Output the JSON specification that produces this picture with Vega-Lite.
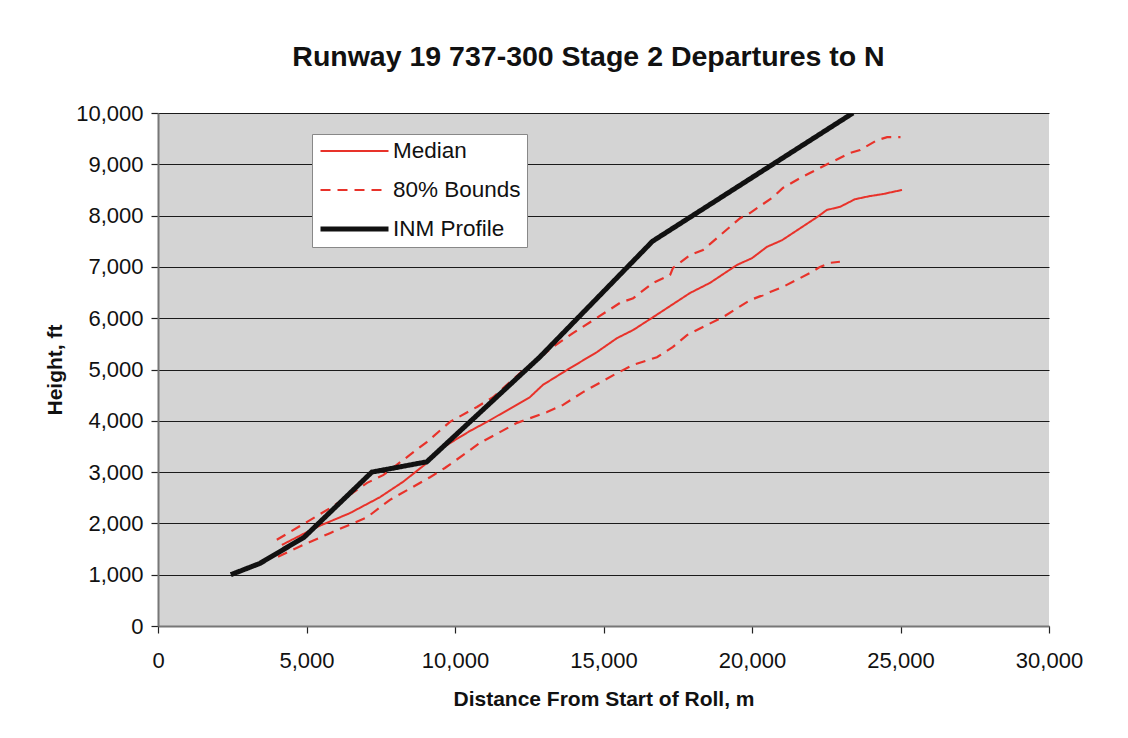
{
  "$schema": "https://vega.github.io/schema/vega-lite/v6.json",
  "autosize": {"type": "none"},
  "width": 891,
  "height": 513,
  "padding": {"left": 158, "top": 113, "right": 79, "bottom": 112},
  "background": "white",
  "title": {
    "text": "Runway 19 737-300 Stage 2 Departures to N",
    "font": "Liberation Sans",
    "fontSize": 28.5,
    "fontWeight": "bold",
    "color": "#111",
    "anchor": "middle",
    "dx": -15,
    "offset": 31
  },
  "config": {
    "font": "Liberation Sans",
    "view": {"fill": "#d4d4d4", "stroke": null},
    "axis": {
      "labelFont": "Liberation Sans",
      "labelFontSize": 22,
      "labelColor": "#111",
      "titleFont": "Liberation Sans",
      "titleFontSize": 21,
      "titleFontWeight": "bold",
      "titleColor": "#111",
      "domainColor": "#777",
      "domainWidth": 2,
      "tickColor": "#222",
      "tickSize": 7,
      "tickWidth": 1.2
    },
    "legend": {
      "orient": "none",
      "legendX": 154,
      "legendY": 21,
      "fillColor": "white",
      "strokeColor": "#888",
      "padding": 6,
      "labelFont": "Liberation Sans",
      "labelFontSize": 22.5,
      "labelColor": "#111",
      "labelOffset": 2,
      "symbolType": "stroke",
      "symbolSize": 4624,
      "clipHeight": 22,
      "rowPadding": 16,
      "title": null
    }
  },
  "data": {
    "values": [
      {"series": "Median", "line": "med", "x": 4170, "y": 1580},
      {"series": "Median", "line": "med", "x": 5350, "y": 1930},
      {"series": "Median", "line": "med", "x": 6460, "y": 2200},
      {"series": "Median", "line": "med", "x": 7470, "y": 2510},
      {"series": "Median", "line": "med", "x": 8250, "y": 2810},
      {"series": "Median", "line": "med", "x": 9060, "y": 3180},
      {"series": "Median", "line": "med", "x": 9500, "y": 3450},
      {"series": "Median", "line": "med", "x": 10500, "y": 3800},
      {"series": "Median", "line": "med", "x": 11080, "y": 3980},
      {"series": "Median", "line": "med", "x": 12520, "y": 4460},
      {"series": "Median", "line": "med", "x": 12960, "y": 4700},
      {"series": "Median", "line": "med", "x": 13770, "y": 4990},
      {"series": "Median", "line": "med", "x": 14780, "y": 5340},
      {"series": "Median", "line": "med", "x": 15450, "y": 5610},
      {"series": "Median", "line": "med", "x": 16000, "y": 5770},
      {"series": "Median", "line": "med", "x": 16670, "y": 6020},
      {"series": "Median", "line": "med", "x": 17910, "y": 6490},
      {"series": "Median", "line": "med", "x": 18590, "y": 6690},
      {"series": "Median", "line": "med", "x": 19500, "y": 7040},
      {"series": "Median", "line": "med", "x": 20000, "y": 7170},
      {"series": "Median", "line": "med", "x": 20500, "y": 7390},
      {"series": "Median", "line": "med", "x": 21010, "y": 7520},
      {"series": "Median", "line": "med", "x": 22190, "y": 7970},
      {"series": "Median", "line": "med", "x": 22520, "y": 8110},
      {"series": "Median", "line": "med", "x": 22960, "y": 8170},
      {"series": "Median", "line": "med", "x": 23470, "y": 8320},
      {"series": "Median", "line": "med", "x": 23970, "y": 8380},
      {"series": "Median", "line": "med", "x": 24410, "y": 8420},
      {"series": "Median", "line": "med", "x": 25050, "y": 8500},

      {"series": "80% Bounds", "line": "upper", "x": 4000, "y": 1680},
      {"series": "80% Bounds", "line": "upper", "x": 5020, "y": 2030},
      {"series": "80% Bounds", "line": "upper", "x": 5860, "y": 2320},
      {"series": "80% Bounds", "line": "upper", "x": 7040, "y": 2790},
      {"series": "80% Bounds", "line": "upper", "x": 7580, "y": 2940},
      {"series": "80% Bounds", "line": "upper", "x": 9060, "y": 3590},
      {"series": "80% Bounds", "line": "upper", "x": 9830, "y": 3980},
      {"series": "80% Bounds", "line": "upper", "x": 10740, "y": 4270},
      {"series": "80% Bounds", "line": "upper", "x": 11280, "y": 4460},
      {"series": "80% Bounds", "line": "upper", "x": 12190, "y": 4930},
      {"series": "80% Bounds", "line": "upper", "x": 13300, "y": 5440},
      {"series": "80% Bounds", "line": "upper", "x": 13970, "y": 5710},
      {"series": "80% Bounds", "line": "upper", "x": 14650, "y": 5960},
      {"series": "80% Bounds", "line": "upper", "x": 15560, "y": 6300},
      {"series": "80% Bounds", "line": "upper", "x": 16000, "y": 6390},
      {"series": "80% Bounds", "line": "upper", "x": 16670, "y": 6690},
      {"series": "80% Bounds", "line": "upper", "x": 17240, "y": 6840},
      {"series": "80% Bounds", "line": "upper", "x": 17340, "y": 6980},
      {"series": "80% Bounds", "line": "upper", "x": 17910, "y": 7230},
      {"series": "80% Bounds", "line": "upper", "x": 18350, "y": 7330},
      {"series": "80% Bounds", "line": "upper", "x": 19600, "y": 7950},
      {"series": "80% Bounds", "line": "upper", "x": 19930, "y": 8050},
      {"series": "80% Bounds", "line": "upper", "x": 20710, "y": 8360},
      {"series": "80% Bounds", "line": "upper", "x": 21040, "y": 8540},
      {"series": "80% Bounds", "line": "upper", "x": 21620, "y": 8730},
      {"series": "80% Bounds", "line": "upper", "x": 21950, "y": 8830},
      {"series": "80% Bounds", "line": "upper", "x": 22630, "y": 9030},
      {"series": "80% Bounds", "line": "upper", "x": 23300, "y": 9220},
      {"series": "80% Bounds", "line": "upper", "x": 23640, "y": 9280},
      {"series": "80% Bounds", "line": "upper", "x": 24210, "y": 9470},
      {"series": "80% Bounds", "line": "upper", "x": 24550, "y": 9530},
      {"series": "80% Bounds", "line": "upper", "x": 25000, "y": 9530},

      {"series": "80% Bounds", "line": "lower", "x": 4040, "y": 1350},
      {"series": "80% Bounds", "line": "lower", "x": 4880, "y": 1580},
      {"series": "80% Bounds", "line": "lower", "x": 5790, "y": 1810},
      {"series": "80% Bounds", "line": "lower", "x": 7040, "y": 2120},
      {"series": "80% Bounds", "line": "lower", "x": 7810, "y": 2460},
      {"series": "80% Bounds", "line": "lower", "x": 9160, "y": 2900},
      {"series": "80% Bounds", "line": "lower", "x": 9660, "y": 3080},
      {"series": "80% Bounds", "line": "lower", "x": 10270, "y": 3330},
      {"series": "80% Bounds", "line": "lower", "x": 10840, "y": 3570},
      {"series": "80% Bounds", "line": "lower", "x": 11450, "y": 3760},
      {"series": "80% Bounds", "line": "lower", "x": 12090, "y": 3960},
      {"series": "80% Bounds", "line": "lower", "x": 13100, "y": 4170},
      {"series": "80% Bounds", "line": "lower", "x": 13640, "y": 4310},
      {"series": "80% Bounds", "line": "lower", "x": 14310, "y": 4560},
      {"series": "80% Bounds", "line": "lower", "x": 15460, "y": 4930},
      {"series": "80% Bounds", "line": "lower", "x": 16000, "y": 5090},
      {"series": "80% Bounds", "line": "lower", "x": 16330, "y": 5150},
      {"series": "80% Bounds", "line": "lower", "x": 16800, "y": 5240},
      {"series": "80% Bounds", "line": "lower", "x": 17340, "y": 5440},
      {"series": "80% Bounds", "line": "lower", "x": 17810, "y": 5670},
      {"series": "80% Bounds", "line": "lower", "x": 18490, "y": 5870},
      {"series": "80% Bounds", "line": "lower", "x": 19020, "y": 6020},
      {"series": "80% Bounds", "line": "lower", "x": 19930, "y": 6350},
      {"series": "80% Bounds", "line": "lower", "x": 20370, "y": 6450},
      {"series": "80% Bounds", "line": "lower", "x": 20610, "y": 6510},
      {"series": "80% Bounds", "line": "lower", "x": 21040, "y": 6610},
      {"series": "80% Bounds", "line": "lower", "x": 21950, "y": 6880},
      {"series": "80% Bounds", "line": "lower", "x": 22290, "y": 7000},
      {"series": "80% Bounds", "line": "lower", "x": 22630, "y": 7080},
      {"series": "80% Bounds", "line": "lower", "x": 22960, "y": 7100},

      {"series": "INM Profile", "line": "inm", "x": 2450, "y": 1000},
      {"series": "INM Profile", "line": "inm", "x": 3430, "y": 1220},
      {"series": "INM Profile", "line": "inm", "x": 4920, "y": 1730},
      {"series": "INM Profile", "line": "inm", "x": 7200, "y": 3000},
      {"series": "INM Profile", "line": "inm", "x": 9050, "y": 3200},
      {"series": "INM Profile", "line": "inm", "x": 12850, "y": 5240},
      {"series": "INM Profile", "line": "inm", "x": 16650, "y": 7500},
      {"series": "INM Profile", "line": "inm", "x": 23400, "y": 10000}
    ]
  },
  "mark": {"type": "line", "clip": true, "strokeCap": "butt", "strokeJoin": "miter"},
  "encoding": {
    "x": {
      "field": "x",
      "type": "quantitative",
      "title": "Distance From Start of Roll, m",
      "scale": {"domain": [0, 30000], "nice": false, "zero": true},
      "axis": {
        "values": [0, 5000, 10000, 15000, 20000, 25000, 30000],
        "format": ",d",
        "grid": false,
        "labelPadding": 17,
        "titlePadding": 17,
        "labelFlush": false,
        "labelOverlap": false
      }
    },
    "y": {
      "field": "y",
      "type": "quantitative",
      "title": "Height, ft",
      "scale": {"domain": [0, 10000], "nice": false},
      "axis": {
        "values": [0, 1000, 2000, 3000, 4000, 5000, 6000, 7000, 8000, 9000, 10000],
        "format": ",d",
        "grid": true,
        "gridColor": "#1a1a1a",
        "gridWidth": 1.2,
        "gridOpacity": 1,
        "labelPadding": 8,
        "titlePadding": 10,
        "labelFlush": false,
        "labelOverlap": false
      }
    },
    "detail": {"field": "line"},
    "color": {
      "field": "series",
      "type": "nominal",
      "scale": {
        "domain": ["Median", "80% Bounds", "INM Profile"],
        "range": ["#e8322a", "#e8322a", "#111111"]
      }
    },
    "strokeDash": {
      "field": "series",
      "type": "nominal",
      "scale": {
        "domain": ["Median", "80% Bounds", "INM Profile"],
        "range": [[1, 0], [10, 7], [1, 0]]
      }
    },
    "strokeWidth": {
      "field": "series",
      "type": "nominal",
      "scale": {
        "type": "ordinal",
        "domain": ["Median", "80% Bounds", "INM Profile"],
        "range": [2, 2.2, 5]
      }
    }
  }
}
